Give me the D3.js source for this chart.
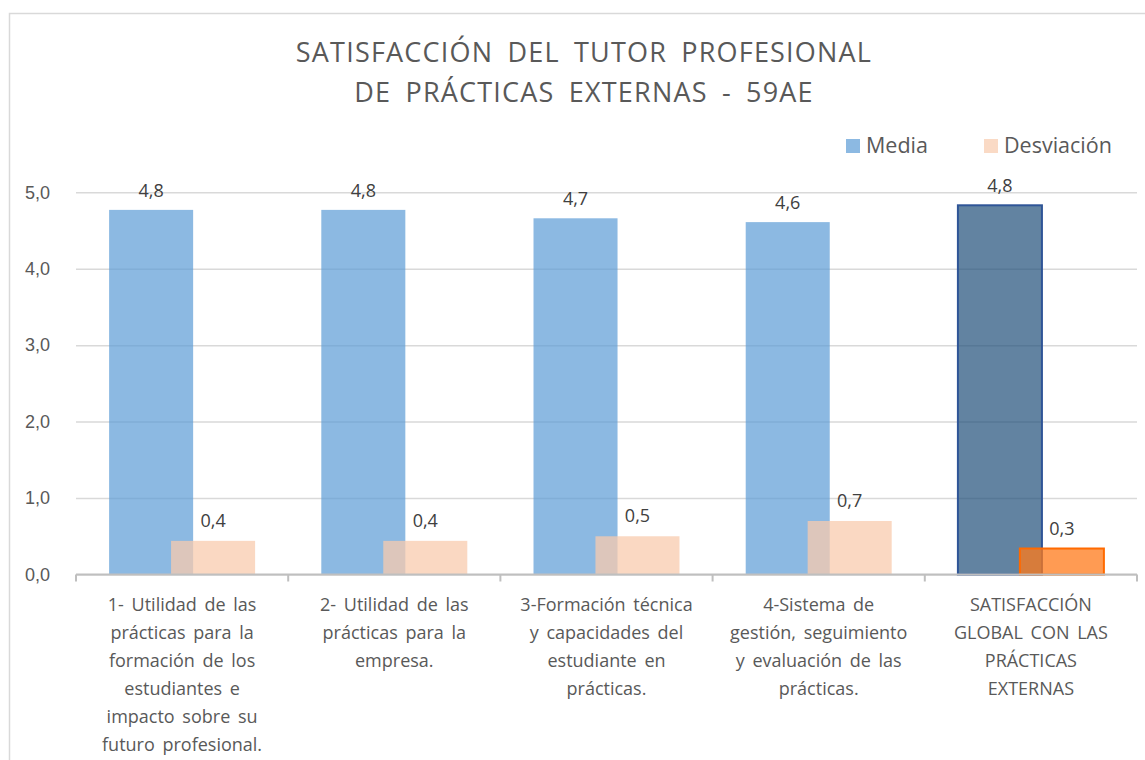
<!DOCTYPE html>
<html>
<head>
<meta charset="utf-8">
<script src="https://cdn.jsdelivr.net/npm/d3@7"></script>
<style>
  html, body { margin: 0; padding: 0; background: #fff; }
  svg { display: block; font-family: "Open Sans", "Noto Sans", sans-serif; }
</style>
</head>
<body>
<svg id="chart" width="1145" height="760"></svg>
<script>
"use strict";

const categories = [
  ["1- Utilidad de las", "prácticas para la", "formación de los", "estudiantes e", "impacto sobre su", "futuro profesional."],
  ["2- Utilidad de las", "prácticas para la", "empresa."],
  ["3-Formación técnica", "y capacidades del", "estudiante en", "prácticas."],
  ["4-Sistema de", "gestión, seguimiento", "y evaluación de las", "prácticas."],
  ["SATISFACCIÓN", "GLOBAL CON LAS", "PRÁCTICAS", "EXTERNAS"],
];
const media = [4.77, 4.77, 4.66, 4.61, 4.83];
const desviacion = [0.44, 0.44, 0.5, 0.7, 0.34];
const yTicks = [0, 1, 2, 3, 4, 5];
const titleLines = ["SATISFACCIÓN DEL TUTOR PROFESIONAL", "DE PRÁCTICAS EXTERNAS - 59AE"];
const seriesNames = ["Media", "Desviación"];

const locale = d3.formatLocale({ decimal: ",", thousands: ".", grouping: [3], currency: ["", "€"] });
const fmt = locale.format(".1f");

const svg = d3.select("#chart");

// chart frame
svg.append("rect")
  .attr("x", 9.5).attr("y", 13.5)
  .attr("width", 1145).attr("height", 760)
  .attr("fill", "#fff").attr("stroke", "#d9d9d9").attr("stroke-width", 1.5);

const x = d3.scaleBand().domain(d3.range(categories.length)).range([76, 1137]);
const y = d3.scaleLinear().domain([0, 5]).range([574.5, 192.3]);

const bw = x.bandwidth();
const barW = bw * 0.396;
const overlap = bw * 0.104;

// gridlines + y labels
const yAxis = d3.axisLeft(y)
  .tickValues(yTicks)
  .tickSize(-(1137 - 76))
  .tickPadding(26)
  .tickFormat(fmt);

const yg = svg.append("g").attr("transform", "translate(76,0)").call(yAxis);
yg.select(".domain").remove();
yg.selectAll(".tick line").attr("stroke", "#d9d9d9").attr("stroke-width", 1.5);
yg.selectAll(".tick text")
  .attr("fill", "#595959").attr("font-size", 18)
  .attr("x", -26);

// bars
const blue = "#5b9bd5", peach = "#f8cbad";
const bars = svg.append("g");

bars.selectAll(".media")
  .data(media)
  .join("rect")
  .attr("class", "media")
  .attr("x", (d, i) => x(i) + bw / 2 - barW + overlap / 2)
  .attr("y", d => y(d))
  .attr("width", barW)
  .attr("height", d => y(0) - y(d))
  .attr("fill", (d, i) => i === 4 ? "#1f4e79" : blue)
  .attr("fill-opacity", 0.7)
  .attr("stroke", (d, i) => i === 4 ? "#2f5597" : "none")
  .attr("stroke-width", 2);

bars.selectAll(".desv")
  .data(desviacion)
  .join("rect")
  .attr("class", "desv")
  .attr("x", (d, i) => x(i) + bw / 2 - overlap / 2)
  .attr("y", d => y(d))
  .attr("width", barW)
  .attr("height", d => y(0) - y(d))
  .attr("fill", (d, i) => i === 4 ? "#ff7a1a" : peach)
  .attr("fill-opacity", 0.75)
  .attr("stroke", (d, i) => i === 4 ? "#ff6a00" : "none")
  .attr("stroke-width", 2);

// data labels
svg.append("g").selectAll("text")
  .data(media)
  .join("text")
  .attr("x", (d, i) => x(i) + bw / 2 - barW / 2 + overlap / 2)
  .attr("y", d => y(d) - 13)
  .attr("text-anchor", "middle")
  .attr("font-size", 18)
  .attr("fill", "#404040")
  .text(d => fmt(d));

svg.append("g").selectAll("text")
  .data(desviacion)
  .join("text")
  .attr("x", (d, i) => x(i) + bw / 2 - overlap / 2 + barW / 2)
  .attr("y", d => y(d) - 14)
  .attr("text-anchor", "middle")
  .attr("font-size", 18)
  .attr("fill", "#404040")
  .text(d => fmt(d));

// x axis
const xg = svg.append("g").attr("transform", `translate(0,${y(0)})`);
xg.append("line")
  .attr("x1", 76).attr("x2", 1137)
  .attr("stroke", "#bfbfbf").attr("stroke-width", 2);
const bounds = x.domain().map(d => x(d)).concat([x.range()[1]]);
xg.selectAll(".tk")
  .data(bounds)
  .join("line")
  .attr("class", "tk")
  .attr("x1", d => d).attr("x2", d => d)
  .attr("y1", 0).attr("y2", 7)
  .attr("stroke", "#bfbfbf").attr("stroke-width", 2);

const labels = svg.append("g").selectAll("text")
  .data(categories)
  .join("text")
  .attr("text-anchor", "middle")
  .attr("font-size", 18)
  .attr("word-spacing", 3)
  .attr("fill", "#595959");
labels.each(function (lines, i) {
  d3.select(this).selectAll("tspan")
    .data(lines)
    .join("tspan")
    .attr("x", x(i) + bw / 2)
    .attr("y", (d, j) => 611 + j * 28)
    .text(d => d);
});

// title
svg.append("g").selectAll("text")
  .data(titleLines)
  .join("text")
  .attr("x", 584)
  .attr("y", (d, i) => 62 + i * 40)
  .attr("text-anchor", "middle")
  .attr("font-size", 27)
  .attr("letter-spacing", 1.2)
  .attr("word-spacing", 6)
  .attr("fill", "#595959")
  .text(d => d);

// legend
const legend = svg.append("g");
const legendX = [846, 984];
const legendColors = [blue, peach];
seriesNames.forEach((name, i) => {
  legend.append("rect")
    .attr("x", legendX[i]).attr("y", 139)
    .attr("width", 14).attr("height", 14)
    .attr("fill", legendColors[i]).attr("fill-opacity", 0.7);
  legend.append("text")
    .attr("x", legendX[i] + 20).attr("y", 153)
    .attr("font-size", 21.5)
    .attr("fill", "#595959")
    .text(name);
});
</script>
</body>
</html>
